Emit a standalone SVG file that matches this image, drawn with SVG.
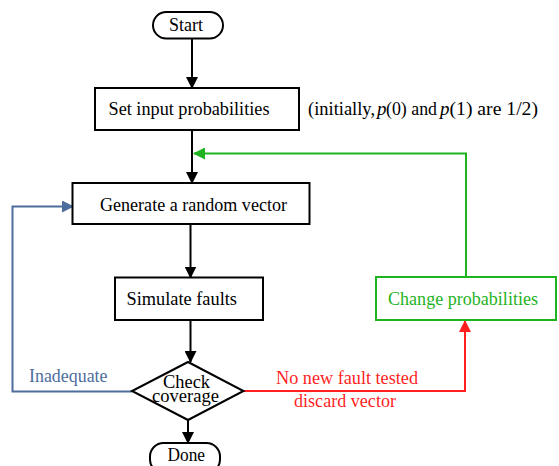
<svg xmlns="http://www.w3.org/2000/svg" width="559" height="466" viewBox="0 0 559 466">
  <style>
    .box { fill: #ffffff; stroke: #000000; stroke-width: 2; }
    .gbox { fill: #ffffff; stroke: #1fb31f; stroke-width: 2; }
    .t { font-family: "Liberation Serif", "Times New Roman", serif; font-size: 19px; fill: #000000; }
    .it { font-style: italic; }
    .conn { fill: none; stroke-width: 2; }
  </style>
  <defs>
    <marker id="ahBlack" markerUnits="userSpaceOnUse" markerWidth="12" markerHeight="12" viewBox="0 0 12 12" refX="11" refY="6" orient="auto">
      <path d="M0,0 L12,6 L0,12 Z" fill="#000000"/>
    </marker>
    <marker id="ahGreen" markerUnits="userSpaceOnUse" markerWidth="12" markerHeight="12" viewBox="0 0 12 12" refX="11" refY="6" orient="auto">
      <path d="M0,0 L12,6 L0,12 Z" fill="#1fb31f"/>
    </marker>
    <marker id="ahBlue" markerUnits="userSpaceOnUse" markerWidth="12" markerHeight="12" viewBox="0 0 12 12" refX="11" refY="6" orient="auto">
      <path d="M0,0 L12,6 L0,12 Z" fill="#4d6d9c"/>
    </marker>
    <marker id="ahRed" markerUnits="userSpaceOnUse" markerWidth="12" markerHeight="12" viewBox="0 0 12 12" refX="11" refY="6" orient="auto">
      <path d="M0,0 L12,6 L0,12 Z" fill="#ff1f1f"/>
    </marker>
  </defs>

  <rect width="559" height="466" fill="#ffffff"/>

  <!-- connectors -->
  <g id="connectors">
    <path class="conn" stroke="#000000" d="M192,38 V88" marker-end="url(#ahBlack)"/>
    <path class="conn" stroke="#000000" d="M192,130 V183" marker-end="url(#ahBlack)"/>
    <path class="conn" stroke="#000000" d="M190.5,224 V277.5" marker-end="url(#ahBlack)"/>
    <path class="conn" stroke="#000000" d="M190.5,320 V362" marker-end="url(#ahBlack)"/>
    <path class="conn" stroke="#000000" d="M188,420 V443" marker-end="url(#ahBlack)"/>
    <path class="conn" stroke="#1fb31f" d="M466,277 V153.5 H194" marker-end="url(#ahGreen)"/>
    <path class="conn" stroke="#4d6d9c" d="M132,391.5 H12.5 V206.5 H73" marker-end="url(#ahBlue)"/>
    <path class="conn" stroke="#ff1f1f" d="M243.5,391 H465 V321" marker-end="url(#ahRed)"/>
  </g>

  <!-- terminals and process boxes -->
  <g id="start">
    <rect class="box" x="153" y="12" width="70" height="26.5" rx="13.25"/>
    <text class="t" x="169" y="30.5" textLength="34" lengthAdjust="spacingAndGlyphs">Start</text>
  </g>

  <g id="set-input">
    <rect class="box" x="95" y="88" width="204" height="42"/>
    <text class="t" x="108.5" y="115" textLength="161" lengthAdjust="spacingAndGlyphs">Set input probabilities</text>
  </g>

  <!-- side note, set piece by piece so the italic p sits in place -->
  <g id="note">
    <text class="t" x="308" y="115" textLength="67" lengthAdjust="spacingAndGlyphs">(initially,</text>
    <text class="t it" x="377" y="115">p</text>
    <text class="t" x="386" y="115" textLength="51" lengthAdjust="spacingAndGlyphs">(0) and</text>
    <text class="t it" x="440" y="115">p</text>
    <text class="t" x="449.5" y="115" textLength="88.5" lengthAdjust="spacingAndGlyphs">(1) are 1/2)</text>
  </g>

  <g id="generate">
    <rect class="box" x="72.5" y="183" width="237" height="41"/>
    <text class="t" x="100" y="210.5" textLength="187" lengthAdjust="spacingAndGlyphs">Generate a random vector</text>
  </g>

  <g id="simulate">
    <rect class="box" x="115" y="277.5" width="148" height="42.5"/>
    <text class="t" x="126.5" y="305" textLength="110.5" lengthAdjust="spacingAndGlyphs">Simulate faults</text>
  </g>

  <g id="change">
    <rect class="gbox" x="376" y="277" width="180" height="43"/>
    <text class="t" x="388" y="305" style="fill:#1fb31f" textLength="150" lengthAdjust="spacingAndGlyphs">Change probabilities</text>
  </g>

  <g id="check">
    <polygon class="box" points="188,362 243.5,391 188,420 132,391"/>
    <text class="t" x="163" y="388" textLength="47" lengthAdjust="spacingAndGlyphs">Check</text>
    <text class="t" x="152" y="402" textLength="67" lengthAdjust="spacingAndGlyphs">coverage</text>
  </g>

  <g id="done">
    <rect class="box" x="150" y="443" width="70" height="30" rx="13.5"/>
    <text class="t" x="167.5" y="460.5" textLength="37.5" lengthAdjust="spacingAndGlyphs">Done</text>
  </g>

  <!-- edge labels -->
  <g id="labels">
    <text class="t" x="29" y="382" style="fill:#4d6d9c" textLength="78.5" lengthAdjust="spacingAndGlyphs">Inadequate</text>
    <text class="t" x="276" y="384" style="fill:#ff1f1f" textLength="142" lengthAdjust="spacingAndGlyphs">No new fault tested</text>
    <text class="t" x="294" y="407" style="fill:#ff1f1f" textLength="102" lengthAdjust="spacingAndGlyphs">discard vector</text>
  </g>
</svg>
